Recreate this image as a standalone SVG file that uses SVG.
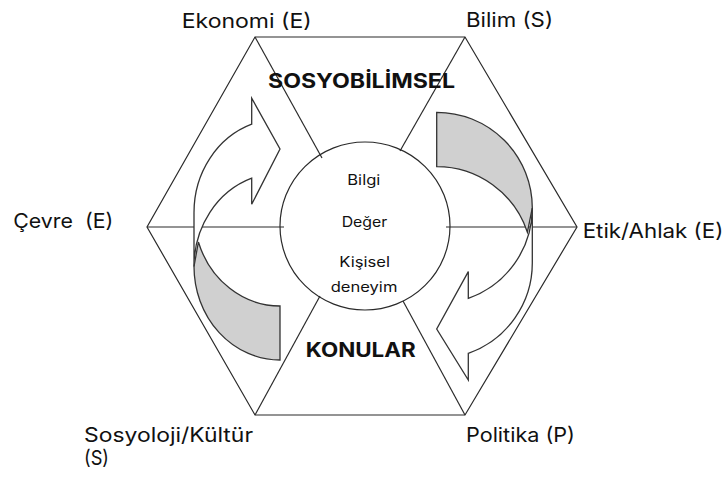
<svg xmlns="http://www.w3.org/2000/svg" width="725" height="480" viewBox="0 0 725 480">
  <style>
    .ln { stroke: #2a2a2a; stroke-width: 1.2; fill: none; }
    .arw { stroke: #333333; stroke-width: 1.3; stroke-linejoin: miter; }
    .back { fill: #d0d0d0; }
    .front { fill: #ffffff; }
    .lbl { font-family: Inter, "Liberation Sans", sans-serif; font-size: 20px; fill: #111111; }
    .in { font-family: Inter, "Liberation Sans", sans-serif; font-size: 14px; fill: #111111; }
    .ttl { font-family: Inter, "Liberation Sans", sans-serif; font-size: 20px; font-weight: bold; fill: #111111; }
  </style>
  <rect width="725" height="480" fill="#ffffff"/>

  <g id="hexagon">
    <polygon class="ln" points="255,37 465,37 577,227 465,415 255,415 147,227"/>
  </g>

  <g id="connectors">
    <line class="ln" x1="255" y1="37" x2="322" y2="158"/>
    <line class="ln" x1="465" y1="37" x2="400" y2="151"/>
    <line class="ln" x1="255" y1="415" x2="320" y2="296"/>
    <line class="ln" x1="465" y1="415" x2="403" y2="301"/>
    <line class="ln" x1="147" y1="227" x2="284" y2="227"/>
    <line class="ln" x1="446" y1="227" x2="577" y2="227"/>
  </g>

  <g id="center">
    <ellipse class="ln" cx="365" cy="226" rx="85" ry="84" fill="#ffffff"/>
    <text class="in" x="347.3" y="185" textLength="33" lengthAdjust="spacingAndGlyphs">Bilgi</text>
    <text class="in" x="341.7" y="226.7" textLength="45.6" lengthAdjust="spacingAndGlyphs">Değer</text>
    <text class="in" x="339.3" y="266.7" textLength="50.7" lengthAdjust="spacingAndGlyphs">Kişisel</text>
    <text class="in" x="330.7" y="291.7" textLength="66.7" lengthAdjust="spacingAndGlyphs">deneyim</text>
  </g>

  <g id="arrow-left">
    <path class="arw back" d="M 194 266.5 A 86 93.5 0 0 0 280 360 L 280 306 A 86 93.5 0 0 1 198.4 242 Z"/>
    <path class="arw front" d="M 194 212.5 A 86 93.5 0 0 1 251.7 124.2 L 251.7 98.2 L 280 149 L 251.7 204.2 L 251.7 178.2 A 86 93.5 0 0 0 194 266.5 Z"/>
  </g>

  <g id="arrow-right">
    <path class="arw back" d="M 532.3 208 A 95.6 95.7 0 0 0 436.7 112.3 L 436.7 166.7 A 95.6 95.7 0 0 1 527.4 232.2 Z"/>
    <path class="arw front" d="M 532.3 262.4 A 95.6 95.7 0 0 1 468.3 353.3 L 468.3 380 L 436.7 329 L 468.3 271.6 L 468.3 298.3 A 95.6 95.7 0 0 0 532.3 208 Z"/>
  </g>

  <g id="title-top">
    <text class="ttl" x="268" y="88.3" textLength="187" lengthAdjust="spacingAndGlyphs">SOSYOBİLİMSEL</text>
  </g>
  <g id="title-bottom">
    <text class="ttl" x="305.7" y="357.3" textLength="110" lengthAdjust="spacingAndGlyphs">KONULAR</text>
  </g>

  <g id="label-ekonomi">
    <text class="lbl" x="181.7" y="28.3" textLength="130" lengthAdjust="spacingAndGlyphs">Ekonomi (E)</text>
  </g>
  <g id="label-bilim">
    <text class="lbl" x="466" y="27" textLength="87" lengthAdjust="spacingAndGlyphs">Bilim (S)</text>
  </g>
  <g id="label-cevre">
    <text class="lbl" x="13.3" y="228.3" textLength="100" lengthAdjust="spacingAndGlyphs" xml:space="preserve">Çevre  (E)</text>
  </g>
  <g id="label-etik">
    <text class="lbl" x="582.7" y="238.3" textLength="140.6" lengthAdjust="spacingAndGlyphs">Etik/Ahlak (E)</text>
  </g>
  <g id="label-sosyoloji">
    <text class="lbl" x="84" y="441.7" textLength="169" lengthAdjust="spacingAndGlyphs">Sosyoloji/Kültür</text>
    <text class="lbl" x="84" y="465" textLength="25" lengthAdjust="spacingAndGlyphs">(S)</text>
  </g>
  <g id="label-politika">
    <text class="lbl" x="466" y="441.7" textLength="109" lengthAdjust="spacingAndGlyphs">Politika (P)</text>
  </g>
</svg>
